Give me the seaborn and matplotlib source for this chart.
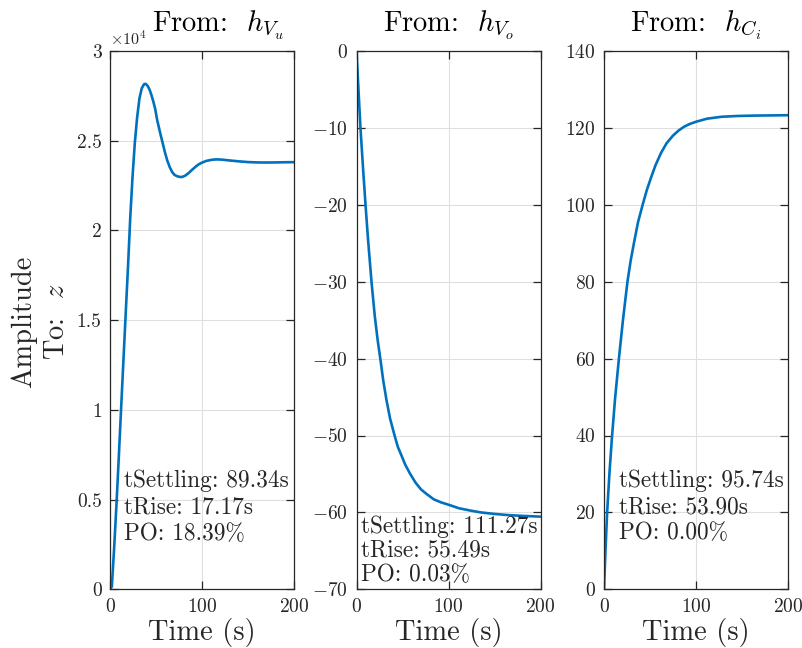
import numpy as np
import matplotlib
matplotlib.use('Agg')
import matplotlib.pyplot as plt
import matplotlib.ticker as mticker
import seaborn as sns

# step response samples
t_vu = [0, 2, 4.5, 7, 9.5, 12, 14.5, 17, 19.5, 22, 24.5, 27, 29.5, 32, 34.5, 37, 38.7, 41,
        43, 45, 47, 49, 51.3, 54, 56.7, 59.5, 62.1, 65, 67.5, 70, 73, 76, 78.4, 82, 85.5,
        89, 92.8, 96, 100, 105, 110.9, 116, 121.7, 130, 140, 150, 160, 170, 180, 190, 200]
y_vu = [0, 150, 2300, 4700, 7300, 10000, 12650, 15300, 17900, 20700, 23000, 24900, 26300,
        27350, 27920, 28150, 28170, 28050, 27850, 27550, 27200, 26800, 26150, 25550, 24980,
        24400, 23920, 23520, 23260, 23100, 23020, 22980, 22980, 23060, 23200, 23370, 23540,
        23670, 23780, 23880, 23940, 23960, 23945, 23900, 23850, 23810, 23790, 23785, 23790,
        23800, 23805]

t_vo = [0, 2, 4.3, 7.2, 9.8, 12.6, 16.3, 19.9, 23, 26.1, 29, 32.6, 36.5, 41.6, 45, 48.9, 53,
        57.9, 64, 70, 76.1, 84, 92, 100, 111, 123.2, 135, 150, 165, 180, 200]
y_vo = [0, -4.7, -10, -15.4, -20, -24.6, -30, -34.5, -37.6, -40.2, -42.8, -45.4, -47.8,
        -50.1, -51.5, -52.6, -53.8, -54.9, -56.1, -57.0, -57.6, -58.3, -58.7, -59.0, -59.45,
        -59.75, -60.0, -60.2, -60.35, -60.45, -60.55]

t_ci = [0, 1.6, 3.4, 6, 8.8, 12, 16.2, 20.5, 25.5, 29, 32.5, 37, 42, 46.5, 51, 56, 62, 68,
        75, 81, 87, 93, 100, 112, 128, 145, 164, 182, 200]
y_ci = [0, 10, 20, 30.5, 40, 49.5, 60, 69.8, 80, 85.5, 90, 95.5, 100, 103.8, 107, 110.3,
        113.5, 116, 118, 119.3, 120.3, 121.0, 121.6, 122.4, 122.9, 123.1, 123.2, 123.25, 123.3]

titles = ['From:  $h_{V_u}$', 'From:  $h_{V_o}$', 'From:  $h_{C_i}$']
info = [['tSettling: 89.34s', 'tRise: 17.17s', 'PO: 18.39%'],
        ['tSettling: 111.27s', 'tRise: 55.49s', 'PO: 0.03%'],
        ['tSettling: 95.74s', 'tRise: 53.90s', 'PO: 0.00%']]

sns.set_style('ticks')
plt.rcParams['font.family'] = ['cmr10', 'DejaVu Serif']
plt.rcParams['mathtext.fontset'] = 'cm'
plt.rcParams['axes.formatter.use_mathtext'] = True
plt.rcParams['axes.unicode_minus'] = True

fig = plt.figure(figsize=(8.02, 6.48), dpi=100)
lefts = [110 / 802, 356.5 / 802, 604 / 802]
w = 184 / 802
b = 58.7 / 648
h = 538.3 / 648
axes = [fig.add_axes([l, b, w, h]) for l in lefts]

data = [(t_vu, y_vu), (t_vo, y_vo), (t_ci, y_ci)]
ylims = [(0, 30000), (-70, 0), (0, 140)]
yticks = [np.arange(0, 30001, 5000), np.arange(-70, 1, 10), np.arange(0, 141, 20)]
text_pos = [(0.078, [0.202, 0.152, 0.102]),
            (0.022, [0.117, 0.072, 0.026]),
            (0.083, [0.202, 0.153, 0.104])]
title_x = [0.59, 0.5, 0.5]

dark = '#262626'
for i, ax in enumerate(axes):
    t, y = data[i]
    sns.lineplot(x=t, y=y, ax=ax, color='#0072BD', linewidth=1.9)
    ax.set_xlim(0, 200)
    ax.set_ylim(*ylims[i])
    ax.set_xticks([0, 100, 200])
    ax.set_yticks(yticks[i])
    ax.grid(True, color='#dfdfdf', linewidth=0.8)
    ax.set_axisbelow(True)
    for s in ax.spines.values():
        s.set_visible(True)
        s.set_color(dark)
        s.set_linewidth(0.9)
    ax.tick_params(direction='in', length=6, width=0.9, colors=dark, labelsize=14,
                   top=True, right=True, pad=6)
    ax.set_title(titles[i], fontsize=20.5, pad=14, color='black', x=title_x[i])
    ax.set_xlabel('Time (s)', fontsize=20.5, labelpad=2, color=dark)
    ax.set_ylabel('')
    tx, tys = text_pos[i]
    for line, ty in zip(info[i], tys):
        ax.text(tx, ty, line, transform=ax.transAxes, fontsize=16.8, va='center', ha='left')

axes[0].yaxis.set_major_formatter(mticker.FuncFormatter(lambda v, p: '%g' % (v / 1e4)))
axes[0].text(0.0, 1.006, r'$\times 10^4$', transform=axes[0].transAxes, fontsize=11.5,
             color=dark, ha='left', va='bottom')

fig.text(40.5 / 802, 1 - 322 / 648, 'Amplitude\nTo:  $z$', rotation=90, fontsize=20.5,
         ha='center', va='center', multialignment='center', linespacing=1.3, color=dark)

fig.savefig('out.png', dpi=100)
